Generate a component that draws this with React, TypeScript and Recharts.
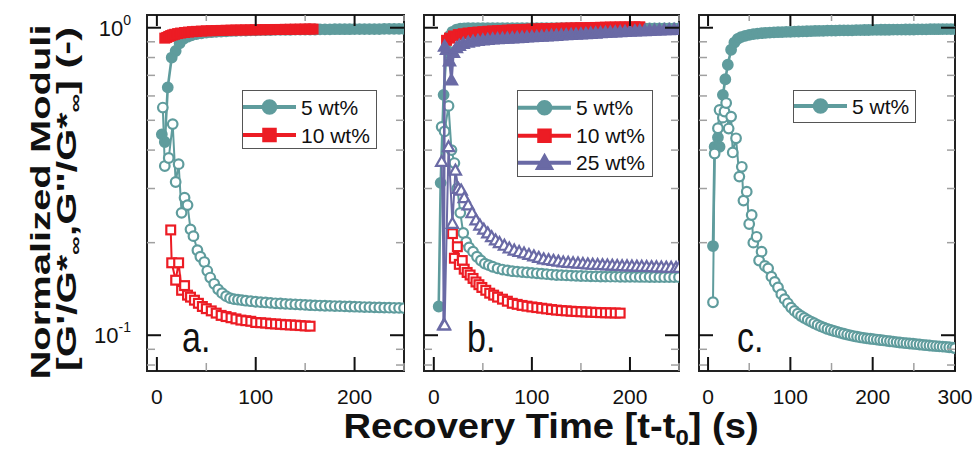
import React from 'react';
import { ScatterChart, Scatter, XAxis, YAxis, ReferenceArea, Legend } from 'recharts';

const TEAL = '#5f9c9d';
const RED = '#ec1c24';
const PURPLE = '#6a6aa5';
const FONT = '"Liberation Sans", Arial, Helvetica, sans-serif';

// ---------- axes ----------
const Y_DOMAIN: [number, number] = [0.0765, 1.1];
const Y_TICKS = [0.08, 0.09, 0.1, 0.2, 0.3, 0.4, 0.5, 0.6, 0.7, 0.8, 0.9, 1];
const Y_LABELS: Record<string, string> = { '0.1': '-1', '1': '0' };
const X_DOMAIN_AB: [number, number] = [-10, 250];
const X_DOMAIN_C: [number, number] = [-11, 300];
const X_TICKS_AB = [0, 50, 100, 150, 200, 250];
const X_TICKS_C = [0, 50, 100, 150, 200, 250, 300];

// ---------- panel a ----------
const A_5_GP: [number, number][] = [[5,0.45],[8,0.425],[11,0.64],[15,0.80],[19,0.84],[23,0.89],[27,0.92],[31,0.935],[35,0.945],[40,0.953],[45,0.959],[50,0.964],[55,0.967],[60,0.97],[65,0.972],[70,0.974],[75,0.976],[80,0.977],[85,0.978],[90,0.979],[95,0.98],[100,0.981],[105,0.982],[110,0.982],[115,0.983],[120,0.984],[125,0.984],[130,0.985],[135,0.985],[140,0.986],[145,0.986],[150,0.987],[155,0.987],[160,0.987],[165,0.988],[170,0.988],[175,0.988],[180,0.989],[185,0.989],[190,0.989],[195,0.989],[200,0.99],[205,0.99],[210,0.99],[215,0.99],[220,0.99],[225,0.99],[230,0.991],[235,0.991],[240,0.991],[245,0.991],[250,0.991]];
const A_5_GPP: [number, number][] = [[6,0.55],[8,0.355],[12,0.377],[16,0.486],[19,0.315],[22,0.36],[25,0.25],[28,0.28],[31,0.265],[34,0.221],[37,0.21],[41,0.189],[44,0.18],[48,0.173],[51,0.162],[54,0.154],[58,0.147],[62,0.141],[66,0.137],[70,0.134],[74,0.132],[78,0.131],[82,0.1305],[86,0.13],[90,0.1295],[95,0.129],[100,0.1285],[105,0.1281],[110,0.1278],[115,0.1274],[120,0.127],[125,0.1268],[130,0.1265],[135,0.1262],[140,0.126],[145,0.1258],[150,0.1255],[155,0.1252],[160,0.125],[165,0.1249],[170,0.1247],[175,0.1246],[180,0.1244],[185,0.1243],[190,0.1241],[195,0.124],[200,0.1238],[205,0.1237],[210,0.1235],[215,0.1234],[220,0.1232],[225,0.1231],[230,0.123],[235,0.1229],[240,0.1228],[245,0.1227],[250,0.1225]];
const A_10_GP: [number, number][] = [[8,0.925],[10,0.93],[12,0.937],[14,0.943],[16,0.948],[18,0.952],[21,0.957],[24,0.961],[28,0.965],[32,0.968],[36,0.971],[40,0.973],[45,0.975],[50,0.977],[55,0.978],[60,0.979],[65,0.98],[70,0.981],[75,0.982],[80,0.983],[85,0.983],[90,0.984],[95,0.984],[100,0.985],[105,0.985],[110,0.986],[115,0.986],[120,0.987],[125,0.987],[130,0.988],[135,0.988],[140,0.989],[145,0.989],[150,0.99],[155,0.99],[158,0.99]];
const A_10_GPP: [number, number][] = [[14,0.22],[15,0.172],[19,0.151],[22,0.172],[25,0.14],[28,0.145],[31,0.135],[34,0.133],[38,0.13],[42,0.127],[46,0.124],[50,0.122],[55,0.12],[60,0.118],[65,0.116],[70,0.115],[75,0.114],[80,0.113],[85,0.112],[90,0.1115],[95,0.111],[100,0.11],[105,0.1098],[110,0.1095],[115,0.109],[120,0.1088],[125,0.1085],[130,0.1082],[135,0.108],[140,0.1078],[145,0.1075],[150,0.1072],[155,0.107]];

// ---------- panel b ----------
const B_5_GP: [number, number][] = [[5,0.124],[7,0.313],[10,0.605],[13,0.85],[16,0.94],[19,0.97],[23,0.985],[27,0.993],[31,0.995],[35,0.996],[40,0.996],[45,0.996],[50,0.996],[55,0.996],[60,0.996],[65,0.996],[70,0.996],[75,0.996],[80,0.996],[85,0.996],[90,0.996],[95,0.996],[100,0.996],[105,0.996],[110,0.996],[115,0.996],[120,0.996],[125,0.996],[130,0.996],[135,0.996],[140,0.996],[145,0.996],[150,0.996],[155,0.996],[160,0.996],[165,0.995],[170,0.995],[175,0.995],[180,0.995],[185,0.995],[190,0.995],[195,0.995],[200,0.995],[205,0.995],[210,0.995],[215,0.995],[220,0.995],[225,0.995],[230,0.995],[235,0.995],[240,0.995],[245,0.995],[250,0.995]];
const B_5_GPP: [number, number][] = [[8,0.476],[11,0.46],[15,0.557],[18,0.40],[21,0.363],[24,0.30],[27,0.25],[30,0.215],[33,0.201],[36,0.193],[40,0.187],[44,0.18],[48,0.175],[52,0.171],[56,0.169],[60,0.167],[65,0.165],[70,0.1635],[75,0.1625],[80,0.1615],[85,0.161],[90,0.1605],[95,0.16],[100,0.1595],[105,0.159],[110,0.1585],[115,0.158],[120,0.1575],[125,0.157],[130,0.1568],[135,0.1565],[140,0.1562],[145,0.156],[150,0.1558],[155,0.1556],[160,0.1554],[165,0.1553],[170,0.1552],[175,0.1551],[180,0.155],[185,0.155],[190,0.1549],[195,0.1549],[200,0.1548],[205,0.1548],[210,0.1547],[215,0.1547],[220,0.1546],[225,0.1546],[230,0.1545],[235,0.1545],[240,0.1545],[245,0.1545],[250,0.1545]];
const B_10_GP: [number, number][] = [[13,0.91],[16,0.925],[20,0.94],[25,0.95],[30,0.956],[35,0.961],[40,0.965],[45,0.968],[50,0.971],[55,0.974],[60,0.976],[65,0.978],[70,0.98],[75,0.982],[80,0.984],[85,0.985],[90,0.987],[95,0.988],[100,0.99],[105,0.991],[110,0.992],[115,0.993],[120,0.994],[125,0.995],[130,0.996],[135,0.997],[140,0.998],[145,0.999],[150,1.0],[155,1.0],[160,1.001],[165,1.002],[170,1.003],[175,1.004],[180,1.005],[185,1.005],[190,1.006],[195,1.006],[200,1.006],[205,1.007],[210,1.007]];
const B_10_GPP: [number, number][] = [[19,0.214],[21,0.178],[24,0.194],[26,0.17],[29,0.175],[31,0.164],[34,0.16],[37,0.157],[40,0.153],[43,0.149],[46,0.146],[49,0.143],[53,0.14],[57,0.137],[61,0.135],[65,0.133],[70,0.131],[75,0.129],[80,0.127],[85,0.126],[90,0.125],[95,0.1243],[100,0.1236],[105,0.123],[110,0.1224],[115,0.1218],[120,0.1212],[125,0.1207],[130,0.1203],[135,0.12],[140,0.1197],[145,0.1194],[150,0.1192],[155,0.119],[160,0.1188],[165,0.1186],[170,0.1184],[175,0.1183],[180,0.1182],[185,0.1181],[190,0.118]];
const B_25_GP: [number, number][] = [[10,0.108],[11,0.87],[13,0.85],[16,0.78],[18,0.676],[20,0.83],[23,0.86],[26,0.875],[30,0.888],[35,0.897],[40,0.903],[45,0.908],[50,0.912],[55,0.915],[60,0.918],[65,0.92],[70,0.922],[75,0.924],[80,0.926],[85,0.928],[90,0.93],[95,0.932],[100,0.934],[105,0.936],[110,0.938],[115,0.94],[120,0.942],[125,0.944],[130,0.946],[135,0.948],[140,0.95],[145,0.952],[150,0.954],[155,0.956],[160,0.958],[165,0.96],[170,0.962],[175,0.964],[180,0.966],[185,0.968],[190,0.97],[195,0.972],[200,0.974],[205,0.976],[210,0.977],[215,0.978],[220,0.98],[225,0.981],[230,0.983],[235,0.984],[240,0.985],[245,0.987],[250,0.988]];
const B_25_GPP: [number, number][] = [[8,0.367],[11,0.108],[15,0.41],[19,0.231],[22,0.344],[25,0.30],[28,0.296],[31,0.28],[35,0.265],[39,0.25],[43,0.237],[47,0.228],[51,0.221],[55,0.215],[59,0.209],[63,0.204],[67,0.2],[72,0.196],[77,0.192],[82,0.189],[87,0.187],[92,0.185],[97,0.183],[102,0.181],[107,0.179],[112,0.177],[117,0.176],[122,0.175],[127,0.174],[132,0.173],[137,0.1725],[142,0.172],[147,0.1715],[152,0.171],[157,0.1705],[162,0.17],[167,0.1697],[172,0.1694],[177,0.1691],[182,0.1688],[187,0.1685],[192,0.1682],[197,0.168],[202,0.1678],[207,0.1676],[212,0.1674],[217,0.1672],[222,0.167],[227,0.1668],[232,0.1666],[237,0.1664],[242,0.1662],[247,0.166],[250,0.166]];

// ---------- panel c ----------
const C_5_GP: [number, number][] = [[6,0.195],[8,0.41],[10,0.41],[12,0.44],[14,0.41],[18,0.605],[21,0.68],[24,0.758],[28,0.848],[32,0.895],[36,0.92],[40,0.932],[45,0.941],[50,0.948],[55,0.953],[60,0.957],[65,0.96],[70,0.962],[75,0.964],[80,0.966],[85,0.967],[90,0.968],[95,0.969],[100,0.97],[105,0.971],[110,0.972],[115,0.973],[120,0.974],[125,0.975],[130,0.976],[135,0.977],[140,0.977],[145,0.978],[150,0.979],[155,0.979],[160,0.98],[165,0.98],[170,0.981],[175,0.981],[180,0.982],[185,0.982],[190,0.983],[195,0.983],[200,0.984],[205,0.984],[210,0.985],[215,0.985],[220,0.985],[225,0.986],[230,0.986],[235,0.986],[240,0.987],[245,0.987],[250,0.987],[255,0.988],[260,0.988],[265,0.988],[270,0.989],[275,0.989],[280,0.989],[285,0.99],[290,0.99],[295,0.99],[300,0.99]];
const C_5_GPP: [number, number][] = [[6,0.128],[8,0.39],[12,0.471],[14,0.54],[18,0.51],[20,0.534],[22,0.569],[25,0.47],[28,0.514],[30,0.393],[34,0.437],[38,0.328],[41,0.353],[43,0.274],[47,0.293],[50,0.23],[53,0.246],[55,0.2],[59,0.209],[62,0.175],[65,0.187],[69,0.168],[73,0.165],[77,0.155],[81,0.149],[85,0.143],[89,0.136],[93,0.131],[97,0.127],[101,0.123],[105,0.12],[109,0.1175],[113,0.1155],[117,0.1138],[121,0.1122],[125,0.1108],[129,0.1094],[133,0.108],[137,0.1068],[141,0.1058],[145,0.1048],[149,0.104],[153,0.1032],[157,0.1025],[161,0.1018],[165,0.1011],[169,0.1005],[173,0.0999],[177,0.0994],[181,0.0989],[185,0.0984],[189,0.098],[193,0.0977],[197,0.0974],[201,0.0971],[205,0.0968],[209,0.0965],[213,0.0962],[217,0.0959],[221,0.0956],[225,0.0953],[229,0.095],[233,0.0947],[237,0.0945],[241,0.0942],[245,0.094],[249,0.0938],[253,0.0935],[257,0.0933],[261,0.093],[265,0.0928],[269,0.0926],[273,0.0924],[277,0.0922],[281,0.092],[285,0.0918],[289,0.0916],[293,0.0914],[297,0.0911],[300,0.0908]];

const LEG_5 = { label: '5 wt%', color: TEAL, kind: 'circle' as const };
const LEG_10 = { label: '10 wt%', color: RED, kind: 'square' as const };
const LEG_25 = { label: '25 wt%', color: PURPLE, kind: 'triangle' as const };

// ---------- layout ----------
const CH = 451, PT = 15, PH = 356, XH = 45, YW = 60, ML = 72, MR = 26;

type Kind = 'circle' | 'square' | 'triangle';
interface SeriesSpec { data: [number, number][]; color: string; kind: Kind; open: boolean; }

function Mark({ cx, cy, kind, color, open, big }: { cx: number; cy: number; kind: Kind; color: string; open: boolean; big?: boolean }) {
  const fill = open ? '#fff' : color;
  const k = big ? 1.4 : 1;
  const sw = 2.2;
  if (kind === 'circle') return <circle cx={cx} cy={cy} r={4.8 * k} fill={fill} stroke={color} strokeWidth={sw} />;
  if (kind === 'square') {
    const h = 4.4 * k;
    return <rect x={cx - h} y={cy - h} width={2 * h} height={2 * h} fill={fill} stroke={color} strokeWidth={sw} />;
  }
  const s = 5.6 * k;
  return <polygon points={`${cx},${cy - s} ${cx + s},${cy + s * 0.78} ${cx - s},${cy + s * 0.78}`} fill={fill} stroke={color} strokeWidth={sw} strokeLinejoin="miter" />;
}

function LegendBox({ items, w, h, rowH, padTop }: { items: { label: string; color: string; kind: Kind }[]; w: number; h: number; rowH: number; padTop: number }) {
  return (
    <div style={{ boxSizing: 'border-box', width: w, height: h, border: '1.5px solid #555', background: '#fff', paddingTop: padTop, fontFamily: FONT }}>
      {items.map((it) => (
        <div key={it.label} style={{ display: 'flex', alignItems: 'center', height: rowH }}>
          <svg width={54} height={rowH} style={{ display: 'block' }}>
            <line x1={0} x2={53} y1={rowH / 2} y2={rowH / 2} stroke={it.color} strokeWidth={4} />
            <Mark cx={26.5} cy={rowH / 2} kind={it.kind} color={it.color} open={false} big />
          </svg>
          <span style={{ fontSize: 21, color: '#111', marginLeft: 4, lineHeight: 1, whiteSpace: 'nowrap' }}>{it.label}</span>
        </div>
      ))}
    </div>
  );
}

interface PanelProps {
  left: number; w: number; domain: [number, number]; ticks: number[];
  series: SeriesSpec[]; legend: { label: string; color: string; kind: Kind }[];
  legendBox: { left: number; top: number; w: number; h: number; rowH: number; padTop: number };
  showYLabels: boolean;
}

function Panel({ left, w, domain, ticks, series, legend, legendBox, showYLabels }: PanelProps) {
  const width = ML + w + MR;
  const x0 = left - ML;
  const xTick = (p: any) => {
    const v = p.payload.value;
    const major = v % 100 === 0;
    const col = major ? '#111' : '#a0a0a0';
    const sw = major ? 2 : 1.5;
    return (
      <g>
        <line x1={p.x} x2={p.x} y1={p.y} y2={p.y - (major ? 14 : 8)} stroke={col} strokeWidth={sw} />
        <line x1={p.x} x2={p.x} y1={p.y - PH} y2={p.y - PH + (major ? 11 : 6)} stroke={col} strokeWidth={sw} />
        {major && (
          <text x={p.x} y={p.y + 33} textAnchor="middle" fontSize={21} fontFamily={FONT} fill="#111">{v}</text>
        )}
      </g>
    );
  };
  const yTick = (p: any) => {
    const v = p.payload.value;
    const sup = Y_LABELS[String(v)];
    const major = sup !== undefined;
    const col = major ? '#111' : '#a0a0a0';
    const sw = major ? 2 : 1.5;
    const len = major ? 14 : 8;
    return (
      <g>
        <line x1={p.x} x2={p.x + len} y1={p.y} y2={p.y} stroke={col} strokeWidth={sw} />
        <line x1={p.x + w} x2={p.x + w - len} y1={p.y} y2={p.y} stroke={col} strokeWidth={sw} />
        {major && showYLabels && (
          <text x={p.x - 16} y={p.y + 8} textAnchor="end" fontSize={22} fontFamily={FONT} fill="#111">
            10<tspan dy={-11} fontSize={14}>{sup}</tspan>
          </text>
        )}
      </g>
    );
  };
  return (
    <div style={{ position: 'absolute', left: x0, top: 0 }}>
      <ScatterChart width={width} height={CH} margin={{ top: PT, right: MR, bottom: CH - PT - PH - XH, left: ML - YW }}>
        <XAxis type="number" dataKey="t" domain={domain} ticks={ticks} interval={0} tickSize={0} tickMargin={0}
          tick={xTick} axisLine={false} allowDataOverflow height={XH} />
        <YAxis type="number" dataKey="v" scale="log" domain={Y_DOMAIN} ticks={Y_TICKS} interval={0} tickSize={0} tickMargin={0}
          tick={yTick} axisLine={false} allowDataOverflow width={YW} />
        <ReferenceArea x1={domain[0]} x2={domain[1]} y1={Y_DOMAIN[0]} y2={Y_DOMAIN[1]} fill="none" fillOpacity={0}
          stroke="#222" strokeWidth={2} ifOverflow="visible" />
        {series.map((s, i) => (
          <Scatter key={i} data={s.data.map(([t, v]) => ({ t, v }))} isAnimationActive={false}
            line={{ stroke: s.color, strokeWidth: s.open ? 2 : 2.6 }} lineType="joint"
            shape={(p: any) => <Mark cx={p.cx} cy={p.cy} kind={s.kind} color={s.color} open={s.open} />} />
        ))}
        <Legend layout="horizontal" verticalAlign="middle" align="center"
          wrapperStyle={{ left: legendBox.left - x0, top: legendBox.top, width: legendBox.w, height: legendBox.h }}
          content={() => <LegendBox items={legend} w={legendBox.w} h={legendBox.h} rowH={legendBox.rowH} padTop={legendBox.padTop} />} />
      </ScatterChart>
    </div>
  );
}

export default function App() {
  return (
    <div style={{ position: 'absolute', left: 0, top: 0, width: 977, height: 451, background: '#fff', overflow: 'hidden' }}>
      <Panel left={147} w={257} domain={X_DOMAIN_AB} ticks={X_TICKS_AB} showYLabels
        series={[
          { data: A_5_GP, color: TEAL, kind: 'circle', open: false },
          { data: A_5_GPP, color: TEAL, kind: 'circle', open: true },
          { data: A_10_GP, color: RED, kind: 'square', open: false },
          { data: A_10_GPP, color: RED, kind: 'square', open: true },
        ]}
        legend={[LEG_5, LEG_10]}
        legendBox={{ left: 242, top: 90, w: 135, h: 59, rowH: 28, padTop: 2 }} />
      <Panel left={424} w={255} domain={X_DOMAIN_AB} ticks={X_TICKS_AB} showYLabels={false}
        series={[
          { data: B_5_GP, color: TEAL, kind: 'circle', open: false },
          { data: B_5_GPP, color: TEAL, kind: 'circle', open: true },
          { data: B_10_GP, color: RED, kind: 'square', open: false },
          { data: B_10_GPP, color: RED, kind: 'square', open: true },
          { data: B_25_GP, color: PURPLE, kind: 'triangle', open: false },
          { data: B_25_GPP, color: PURPLE, kind: 'triangle', open: true },
        ]}
        legend={[LEG_5, LEG_10, LEG_25]}
        legendBox={{ left: 517, top: 90, w: 136, h: 87, rowH: 27.5, padTop: 3 }} />
      <Panel left={699} w={256} domain={X_DOMAIN_C} ticks={X_TICKS_C} showYLabels={false}
        series={[
          { data: C_5_GP, color: TEAL, kind: 'circle', open: false },
          { data: C_5_GPP, color: TEAL, kind: 'circle', open: true },
        ]}
        legend={[LEG_5]}
        legendBox={{ left: 793, top: 90, w: 123, h: 33, rowH: 28, padTop: 1 }} />
      <svg width={977} height={451} style={{ position: 'absolute', left: 0, top: 0, pointerEvents: 'none' }}>
        <g fontFamily={FONT} fill="#111">
          <text transform="translate(50,202) rotate(-90) scale(1.48,1)" textAnchor="middle" fontSize={27} fontWeight="bold">Normalized Moduli</text>
          <text transform="translate(76,199) rotate(-90) scale(1.54,1)" textAnchor="middle" fontSize={27} fontWeight="bold">
            [G'/G*<tspan fontSize={17} dy={5}>∞</tspan><tspan dy={-5}>,G''/G*</tspan><tspan fontSize={17} dy={5}>∞</tspan><tspan dy={-5}>] (-)</tspan>
          </text>
          <text transform="translate(551,438) scale(1.09,1)" textAnchor="middle" fontSize={35} fontWeight="bold">
            Recovery Time [t-t<tspan fontSize={22} dy={7}>0</tspan><tspan dy={-7}>] (s)</tspan>
          </text>
          <text transform="translate(182,352) scale(1,1.25)" fontSize={34}>a.</text>
          <text transform="translate(467,352) scale(1,1.25)" fontSize={34}>b.</text>
          <text transform="translate(737,352) scale(1,1.25)" fontSize={34}>c.</text>
        </g>
      </svg>
    </div>
  );
}
